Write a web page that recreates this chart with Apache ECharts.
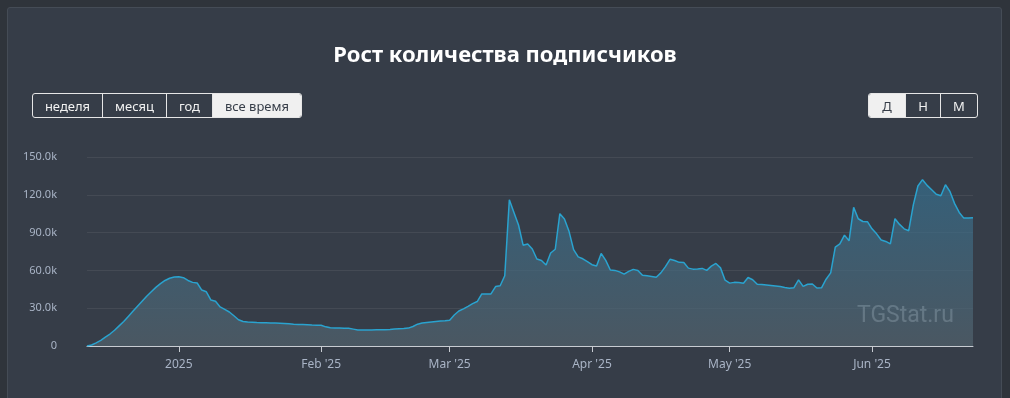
<!DOCTYPE html>
<html>
<head>
<meta charset="utf-8">
<title>Рост количества подписчиков</title>
<script src="https://cdn.jsdelivr.net/npm/echarts@6/dist/echarts.min.js"></script>
<style>
  html, body { margin: 0; padding: 0; background: #2f343b; }
  body { width: 1010px; height: 398px; overflow: hidden; position: relative; font-family: "Noto Sans", sans-serif; }
  .card {
    position: absolute; left: 7px; top: 7px; width: 993px; height: 420px;
    background: #363d48; border: 1px solid #454c56; border-radius: 3px;
  }
  #chart { position: absolute; left: 0; top: 0; width: 1010px; height: 398px; }
  .btns { position: absolute; top: 93px; display: flex; height: 23px;
    border: 1px solid #e6e6e6; border-radius: 3px; overflow: hidden; z-index: 2; }
  .btns span { display: flex; align-items: center; justify-content: center;
    color: #f2f2f2; font-size: 13px; border-right: 1px solid #e6e6e6; box-sizing: border-box; }
  .btns span:last-child { border-right: none; }
  .btns span.on { background: #f0f0f0; color: #363d48; }
</style>
</head>
<body>
<div class="card"></div>
<div id="chart"></div>
<div class="btns" style="left:32px;width:268px">
  <span style="width:70px">неделя</span>
  <span style="width:64px">месяц</span>
  <span style="width:46px">год</span>
  <span class="on" style="width:88px">все время</span>
</div>
<div class="btns" style="left:868px;width:108px">
  <span class="on" style="width:37px">Д</span>
  <span style="width:35px">Н</span>
  <span style="width:36px">М</span>
</div>
<script>
// subscribers per day, by month (Dec 12 2024 .. Jun 23 2025)
var decValues = [0, 800, 2500, 4500, 7000, 9500, 12500, 16000, 19500, 23500,
  27500, 31500, 35500, 39500, 43000, 46500, 49500, 52000, 53800, 54800];
var janValues = [55000, 54200, 52000, 50500, 50000, 44400, 43000, 36500, 35500, 31000,
  29000, 27000, 24000, 20800, 19500, 19000, 18800, 18600, 18500, 18400,
  18300, 18200, 18100, 17900, 17600, 17300, 17100, 17000, 16800, 16600, 16500];
var febValues = [16400, 15200, 14400, 14300, 14200, 14100, 14000, 13400, 12700, 12700,
  12700, 12700, 12800, 12800, 12900, 13100, 13400, 13600, 13800, 14200,
  15500, 17300, 18200, 18700, 19100, 19500, 19800, 20100];
var marValues = [20500, 24600, 27800, 29500, 31500, 33600, 35300, 41300, 41300, 41300,
  47200, 47800, 55800, 116000, 106000, 96000, 80000, 81000, 77000, 69000,
  67800, 64300, 73800, 76800, 105000, 100800, 91000, 76500, 70700, 69200, 67000];
var aprValues = [64500, 63500, 73500, 68000, 60300, 60000, 58800, 57000, 59200, 60800,
  60000, 56100, 55700, 55200, 54600, 58000, 63000, 68800, 67800, 66400,
  66200, 61800, 61000, 61200, 61600, 60000, 63400, 65500, 62000, 52200];
var mayValues = [49900, 50500, 50400, 49800, 54400, 52600, 49000, 48800, 48400, 48000,
  47600, 47200, 46400, 45800, 46300, 52500, 47300, 49000, 49200, 46000,
  46200, 53000, 58000, 78500, 81000, 88000, 83500, 110000, 101000, 98800, 98700];
var junValues = [93000, 89000, 84100, 83000, 81000, 101000, 96500, 93000, 91500, 112000,
  127000, 132000, 127500, 124000, 120500, 119300, 128000, 122500, 113000, 106000,
  101500, 101500, 101800];

var months = [
  { y: 2024, m: 12, from: 12, values: decValues },
  { y: 2025, m: 1, from: 1, values: janValues },
  { y: 2025, m: 2, from: 1, values: febValues },
  { y: 2025, m: 3, from: 1, values: marValues },
  { y: 2025, m: 4, from: 1, values: aprValues },
  { y: 2025, m: 5, from: 1, values: mayValues },
  { y: 2025, m: 6, from: 1, values: junValues }
];
var monthNames = ['Jan', 'Feb', 'Mar', 'Apr', 'May', 'Jun', 'Jul', 'Aug', 'Sep', 'Oct', 'Nov', 'Dec'];

var dates = [];
var values = [];
months.forEach(function (mo) {
  mo.values.forEach(function (v, i) {
    var d = mo.from + i;
    dates.push(mo.y + '-' + (mo.m < 10 ? '0' : '') + mo.m + '-' + (d < 10 ? '0' : '') + d);
    values.push(v);
  });
});

function isMonthStart(idx, val) {
  return val.slice(8) === '01';
}

var chart = echarts.init(document.getElementById('chart'));
chart.setOption({
  backgroundColor: 'transparent',
  animation: false,
  title: {
    text: 'Рост количества подписчиков',
    left: 'center',
    top: 40,
    textStyle: { color: '#ffffff', fontSize: 22, fontWeight: 'bold', fontFamily: 'Noto Sans' }
  },
  graphic: [{
    type: 'text',
    left: 857,
    top: 305,
    silent: true,
    style: { text: 'TGStat.ru', fill: 'rgba(225,230,235,0.6)', fontSize: 23, fontFamily: 'Roboto' }
  }],
  grid: { left: 87, right: 37, top: 157, bottom: 52 },
  xAxis: {
    type: 'category',
    boundaryGap: false,
    data: dates,
    axisLine: { lineStyle: { color: '#c8ccd2', width: 1 } },
    axisTick: { interval: isMonthStart, length: 6, lineStyle: { color: '#c8ccd2' } },
    axisLabel: {
      interval: isMonthStart,
      color: '#a9b4c6',
      fontSize: 12,
      margin: 13,
      fontFamily: 'Noto Sans',
      formatter: function (val) {
        var y = val.slice(0, 4), m = +val.slice(5, 7);
        if (m === 1) return y;
        return monthNames[m - 1] + " '" + y.slice(2);
      }
    },
    splitLine: { show: false }
  },
  yAxis: {
    type: 'value',
    min: 0,
    max: 150000,
    interval: 30000,
    axisLine: { show: false },
    axisTick: { show: false },
    axisLabel: {
      color: '#a9b4c6',
      fontSize: 11,
      margin: 30,
      fontFamily: 'Noto Sans',
      formatter: function (v) { return v === 0 ? '0' : (v / 1000).toFixed(1) + 'k'; }
    },
    splitLine: { lineStyle: { color: 'rgba(255,255,255,0.07)', width: 1 } }
  },
  series: [{
    type: 'line',
    data: values,
    showSymbol: false,
    smooth: false,
    lineStyle: { color: '#2aa3cf', width: 1.5 },
    areaStyle: {
      color: new echarts.graphic.LinearGradient(0, 0, 0, 1, [
        { offset: 0, color: '#356f8f' },
        { offset: 1, color: '#53636e' }
      ])
    }
  }]
});
</script>
</body>
</html>
